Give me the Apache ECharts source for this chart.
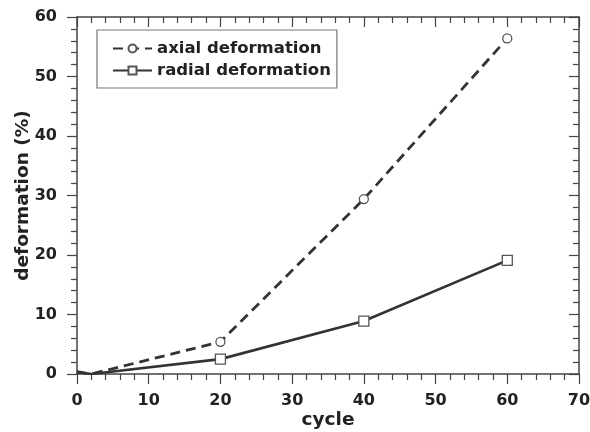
<!DOCTYPE html>
<html><head><meta charset="utf-8">
<script src="https://cdn.jsdelivr.net/npm/echarts@6/dist/echarts.min.js"></script>
<style>html,body{margin:0;padding:0;background:#fff}#c{width:590px;height:432px}</style>
</head><body><div id="c"></div>
<script>
const cycles = [0, 2, 20, 40, 60];
const axial = [0.4, 0, 5.4, 29.4, 56.4];
const radial = [0.3, 0, 2.5, 8.9, 19.1];
const xTicks = [0, 10, 20, 30, 40, 50, 60, 70];
const yTicks = [0, 10, 20, 30, 40, 50, 60];
const seriesNames = ['axial deformation', 'radial deformation'];

const F = 'DejaVu Sans';
const ink = '#333';
function pts(vals){
  return cycles.map((c,i)=>({value:[c, vals[i]], symbol: c < 10 ? 'none' : undefined}));
}
const baseAxis = {
  axisLine:{show:true, onZero:false, lineStyle:{color:'#444', width:1.5}},
  splitLine:{show:false},
  minorTick:{show:true, splitNumber:5, length:6, lineStyle:{color:'#444', width:1.2}},
  axisTick:{show:true, length:10, lineStyle:{color:'#444', width:1.2}}
};
const chart = echarts.init(document.getElementById('c'));
chart.setOption({
  animation:false,
  backgroundColor:'#fff',
  grid:{left:77, right:11, top:17, bottom:58, outerBoundsMode:'none', containLabel:false},
  legend:{
    left:97, top:30, orient:'vertical',
    data: seriesNames,
    borderColor:'#777', borderWidth:1.2, padding:[10,6,9,15],
    itemWidth:39, itemHeight:10, itemGap:5,
    textStyle:{fontFamily:F, fontWeight:'bold', fontSize:16.5, color:'#222'}
  },
  xAxis:[
    Object.assign({}, baseAxis, {type:'value', min:xTicks[0], max:xTicks[xTicks.length-1], interval:10,
      position:'bottom', name:'cycle', nameLocation:'middle', nameGap:37, nameMoveOverlap:false,
      nameTextStyle:{fontFamily:F, fontWeight:'bold', fontSize:18.5, color:'#222'},
      axisLabel:{margin:19, fontFamily:F, fontWeight:'bold', fontSize:16, color:'#222'}}),
    Object.assign({}, baseAxis, {type:'value', min:xTicks[0], max:xTicks[xTicks.length-1], interval:10,
      position:'top', axisLabel:{show:false},
      axisTick:{show:true, inside:true, length:10, lineStyle:{color:'#444', width:1.2}}})
  ],
  yAxis:[
    Object.assign({}, baseAxis, {type:'value', min:yTicks[0], max:yTicks[yTicks.length-1], interval:10,
      position:'left', name:'deformation (%)', nameLocation:'middle', nameGap:44, nameMoveOverlap:false,
      nameTextStyle:{fontFamily:F, fontWeight:'bold', fontSize:18.5, color:'#222'},
      axisLabel:{margin:20, fontFamily:F, fontWeight:'bold', fontSize:16, color:'#222'}}),
    Object.assign({}, baseAxis, {type:'value', min:yTicks[0], max:yTicks[yTicks.length-1], interval:10,
      position:'right', axisLabel:{show:false},
      axisTick:{show:true, inside:true, length:10, lineStyle:{color:'#444', width:1.2}}})
  ],
  series:[
    {name:seriesNames[0], type:'line', xAxisIndex:0, yAxisIndex:0, data:pts(axial),
     symbol:'circle', symbolSize:9, showAllSymbol:true,
     lineStyle:{color:ink, width:2.8, type:[10,6]},
     itemStyle:{color:'#fff', borderColor:'#555', borderWidth:1.3}},
    {name:seriesNames[1], type:'line', xAxisIndex:0, yAxisIndex:0, data:pts(radial),
     symbol:'rect', symbolSize:10, showAllSymbol:true,
     lineStyle:{color:ink, width:2.6},
     itemStyle:{color:'#fff', borderColor:'#555', borderWidth:1.3}}
  ]
});
</script></body></html>
